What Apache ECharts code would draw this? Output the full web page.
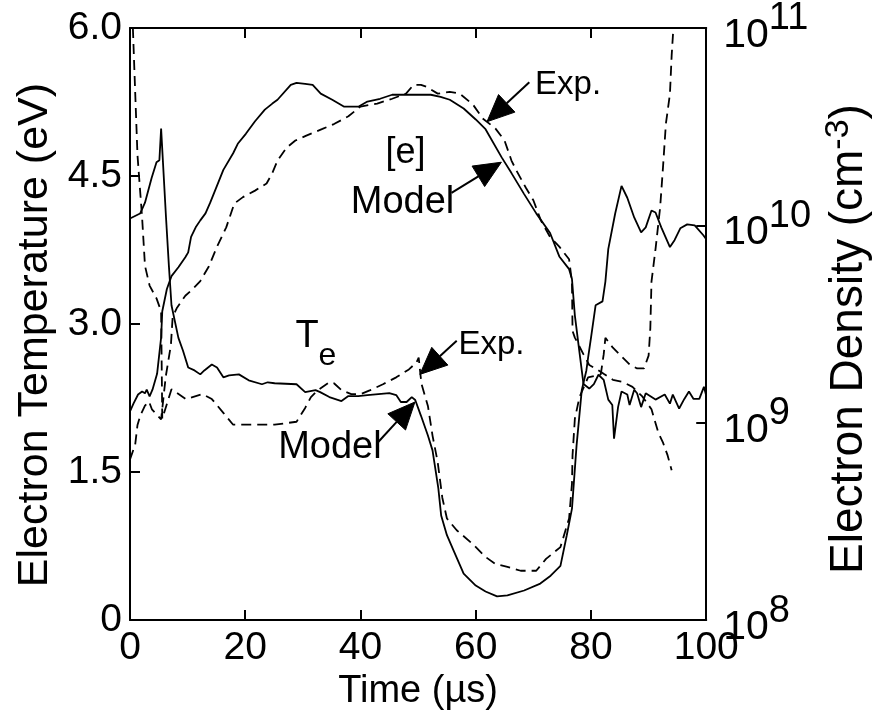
<!DOCTYPE html>
<html>
<head>
<meta charset="utf-8">
<title>Electron temperature and density</title>
<script src="https://cdn.jsdelivr.net/npm/echarts@6/dist/echarts.min.js"></script>
<style>
  html, body { margin: 0; padding: 0; background: #fff; }
  #chart { width: 880px; height: 716px; }
</style>
</head>
<body>
<div id="chart"></div>
<script>
// ---- tick labels ----
const timeTickLabels = ['0', '20', '40', '60', '80', '100'];
const tempTickLabels = ['0', '1.5', '3.0', '4.5', '6.0'];
const densityExponents = ['8', '9', '10', '11'];

// ---- electron temperature, [time (us), Te (eV)] ----
const teModel = [
  [0, 4.07], [1.75, 4.12], [2.6, 4.23], [3.75, 4.48], [4.6, 4.64], [5.1, 4.66], [5.4, 4.98],
  [6.25, 4.08], [6.75, 3.59], [7.2, 3.19], [8.4, 2.86], [9.2, 2.73], [10.1, 2.56], [11.2, 2.53],
  [12.2, 2.49], [12.9, 2.53], [14.2, 2.59], [15.1, 2.56], [16.2, 2.46], [17.2, 2.48], [18.9, 2.49],
  [20.6, 2.43], [22.9, 2.39], [23.9, 2.41], [25.1, 2.40], [28.9, 2.39], [30.4, 2.31], [32.2, 2.33],
  [33.0, 2.31], [34.6, 2.26], [36.7, 2.22], [37.9, 2.27], [39.6, 2.27], [41.2, 2.28], [45.0, 2.30],
  [46.2, 2.28], [47.0, 2.21], [48.0, 2.21], [48.9, 2.26], [49.5, 2.23], [50.5, 2.07], [51.7, 1.87],
  [52.5, 1.72], [53.5, 1.34], [54.0, 1.06], [55.0, 0.86], [56.2, 0.70], [57.9, 0.47], [60.0, 0.35],
  [61.7, 0.29], [63.7, 0.24], [65.5, 0.25], [68.4, 0.30], [71.2, 0.37], [73.0, 0.45], [74.7, 0.55],
  [75.8, 0.86], [76.7, 1.13], [77.5, 1.77], [78.4, 2.33], [79.2, 2.53], [79.5, 2.66], [80.0, 2.86],
  [80.8, 3.19], [82.0, 3.23], [82.5, 3.43], [83.0, 3.76], [84.2, 4.12], [85.3, 4.40], [86.3, 4.28],
  [87.5, 4.08], [88.7, 3.93], [89.5, 3.98], [90.5, 4.15], [91.2, 4.13], [92.2, 3.98], [93.7, 3.78],
  [94.5, 3.85], [95.5, 3.97], [96.7, 4.01], [98.0, 4.00], [99.5, 3.90], [100, 3.86]
];
const teExp = [
  [0.5, 6.0], [0.9, 5.35], [1.3, 4.71], [2.1, 4.08], [2.6, 3.59], [3.4, 3.39], [4.6, 3.26], [5.4, 3.13],
  [5.6, 2.04], [7.2, 2.34], [9.7, 2.24], [12.6, 2.29], [14.2, 2.24], [16.2, 2.10], [17.9, 1.98],
  [19.6, 1.98], [25.1, 1.98], [28.9, 2.01], [30.4, 2.15], [31.4, 2.26], [32.6, 2.33], [34.6, 2.41],
  [35.4, 2.40], [36.7, 2.33], [38.4, 2.29], [40.0, 2.29], [41.7, 2.33], [43.9, 2.39], [46.2, 2.46],
  [48.4, 2.54], [49.7, 2.61], [50.1, 2.66], [50.4, 2.49], [50.6, 2.39], [51.7, 2.17], [52.5, 1.87],
  [53.4, 1.60], [54.2, 1.24], [55.0, 1.03], [56.7, 0.91], [59.5, 0.77], [61.7, 0.64], [63.4, 0.57],
  [65.5, 0.54], [67.8, 0.50], [70.5, 0.50], [72.2, 0.62], [74.7, 0.74], [76.2, 1.03], [76.7, 1.38],
  [76.8, 1.67], [77.2, 2.04], [78.0, 2.26], [79.5, 2.46], [81.7, 2.49], [82.2, 2.69], [82.5, 2.86],
  [83.8, 2.76], [85.0, 2.69], [86.7, 2.59], [88.0, 2.55], [89.2, 2.55], [90.0, 2.68], [90.3, 2.96],
  [90.5, 3.43], [91.2, 3.76], [92.0, 4.18], [92.5, 4.59], [93.0, 5.03], [93.7, 5.33], [94.0, 5.72],
  [94.3, 6.0]
];

// ---- electron density, [time (us), ne (cm^-3)] ----
const neModel = [
  [0, 1.14e9], [0.6, 1.25e9], [1.4, 1.39e9], [2.1, 1.44e9], [2.6, 1.41e9], [2.9, 1.47e9], [3.4, 1.36e9],
  [3.9, 1.47e9], [4.7, 1.77e9], [5.4, 2.70e9], [5.6, 3.67e9], [6.4, 4.76e9], [7.2, 5.53e9], [8.4, 6.14e9],
  [9.6, 6.89e9], [10.1, 7.30e9], [10.6, 8.74e9], [11.4, 9.77e9], [12.2, 1.06e10], [13.1, 1.15e10],
  [13.9, 1.30e10], [14.6, 1.46e10], [16.2, 1.91e10], [17.9, 2.32e10], [18.7, 2.59e10], [20.1, 2.91e10],
  [21.7, 3.37e10], [23.4, 3.86e10], [24.7, 4.14e10], [25.6, 4.33e10], [27.9, 5.15e10], [28.9, 5.27e10],
  [30.4, 5.21e10], [31.7, 5.15e10], [33.1, 4.65e10], [35.1, 4.33e10], [37.1, 4.00e10], [39.7, 4.00e10],
  [41.2, 4.24e10], [43.4, 4.38e10], [45.5, 4.59e10], [47.9, 4.59e10], [52.2, 4.59e10], [53.9, 4.48e10],
  [55.5, 4.33e10], [57.9, 3.91e10], [60.0, 3.44e10], [61.7, 3.07e10], [64.5, 2.21e10], [66.2, 1.84e10],
  [68.4, 1.44e10], [70.5, 1.15e10], [72.9, 9.15e9], [74.5, 6.96e9], [76.2, 6.00e9], [76.7, 5.35e9],
  [77.2, 3.50e9], [77.9, 2.40e9], [78.7, 1.57e9], [79.7, 1.49e9], [80.5, 1.57e9], [81.3, 1.75e9],
  [82.2, 1.65e9], [83.0, 1.31e9], [83.7, 1.23e9], [84.0, 8.30e8], [84.7, 1.20e9], [85.3, 1.44e9],
  [86.3, 1.39e9], [86.7, 1.23e9], [87.5, 1.47e9], [88.0, 1.41e9], [88.7, 1.20e9], [89.5, 1.41e9],
  [91.2, 1.31e9], [92.8, 1.39e9], [93.7, 1.25e9], [94.2, 1.39e9], [95.3, 1.18e9], [96.2, 1.32e9],
  [97.0, 1.44e9], [97.8, 1.32e9], [98.8, 1.32e9], [99.6, 1.52e9], [100, 1.37e9]
];
const neExp = [
  [0, 6.52e8], [0.9, 7.75e8], [1.3, 9.75e8], [1.8, 1.09e9], [2.6, 1.22e9], [3.3, 1.28e9], [3.8, 1.17e9],
  [5.4, 1.04e9], [6.2, 1.71e9], [7.1, 2.48e9], [7.4, 3.43e9], [8.1, 3.80e9], [9.6, 4.40e9], [10.9, 4.76e9],
  [12.2, 5.22e9], [13.7, 6.21e9], [15.1, 7.80e9], [16.7, 9.77e9], [18.1, 1.29e10], [19.6, 1.39e10],
  [21.7, 1.50e10], [23.7, 1.63e10], [24.7, 1.84e10], [25.6, 2.13e10], [27.2, 2.48e10], [28.7, 2.69e10],
  [30.6, 2.85e10], [33.4, 3.08e10], [35.4, 3.26e10], [37.9, 3.57e10], [40.0, 4.00e10], [42.9, 4.14e10],
  [45.5, 4.38e10], [47.9, 4.65e10], [49.2, 5.15e10], [50.5, 5.15e10], [51.5, 5.03e10], [53.4, 4.65e10],
  [55.5, 4.75e10], [57.2, 4.65e10], [59.5, 4.10e10], [61.2, 3.48e10], [63.4, 3.10e10], [65.0, 2.69e10],
  [66.2, 2.13e10], [67.0, 1.91e10], [68.7, 1.55e10], [70.0, 1.34e10], [71.3, 1.06e10], [72.9, 8.74e9],
  [74.5, 7.80e9], [76.2, 6.73e9], [76.7, 5.17e9], [76.8, 2.92e9], [77.2, 2.70e9], [78.7, 2.22e9],
  [79.7, 1.96e9], [81.2, 1.85e9], [82.2, 1.77e9], [83.8, 1.65e9], [85.5, 1.61e9], [87.2, 1.52e9],
  [88.9, 1.36e9], [90.5, 1.17e9], [91.7, 8.89e8], [92.5, 7.93e8], [93.3, 6.83e8], [94.0, 5.75e8]
];

// ---- look ----
const FONT = '"Liberation Sans", Arial, Helvetica, sans-serif';
const INK = '#000';
const TICK_FONT = 39;

// Callouts, placed in (time, Te) coordinates of the left axis
const callouts = [
  { text: 'Exp.',  size: 33, at: [70.3, 5.42], align: 'left',   tail: [69.3, 5.45], tip: [61.95, 5.05] },
  { text: '[e]',   size: 36, at: [47.8, 4.73], align: 'center' },
  { text: 'Model', size: 38, at: [47.3, 4.23], align: 'center', tail: [55.8, 4.33], tip: [64.45, 4.64] },
  { text: 'Exp.',  size: 33, at: [57.0, 2.79], align: 'left',   tail: [56.7, 2.83], tip: [50.3, 2.49] },
  { text: 'Model', size: 38, at: [34.7, 1.75], align: 'center', tail: [43.0, 1.80], tip: [49.45, 2.21] }
];
const teLabelAt = [28.7, 2.79];

const axisLine = { show: true, onZero: false, lineStyle: { color: INK, width: 2 } };
const axisTick = { show: true, inside: true, length: 10, lineStyle: { color: INK, width: 2 } };
const tickText = { fontFamily: FONT, fontSize: TICK_FONT, color: INK };

const solid = { color: INK, width: 1.8, type: 'solid' };
const dashed = { color: INK, width: 1.8, type: [10, 6] };

function lineSeries(name, data, yAxisIndex, style) {
  return {
    name, type: 'line', data, xAxisIndex: 0, yAxisIndex,
    showSymbol: false, symbol: 'none', smooth: false, clip: true,
    lineStyle: style, emphasis: { disabled: true }, silent: true
  };
}

const chart = echarts.init(document.getElementById('chart'), null, { renderer: 'canvas' });

chart.setOption({
  animation: false,
  backgroundColor: '#fff',
  grid: { left: 130, top: 25, width: 600, height: 602, containLabel: false },
  xAxis: [
    {
      type: 'value', min: 0, max: 100, interval: 20, position: 'bottom',
      name: 'Time (µs)', nameLocation: 'middle', nameGap: 48,
      nameTextStyle: { fontFamily: FONT, fontSize: 38, color: INK },
      axisLine, axisTick,
      axisLabel: { ...tickText, margin: 9, formatter: (v, i) => timeTickLabels[i] },
      splitLine: { show: false }
    },
    {
      type: 'value', min: 0, max: 100, interval: 20, position: 'top',
      axisLine, axisTick, axisLabel: { show: false }, splitLine: { show: false }
    }
  ],
  yAxis: [
    {
      type: 'value', min: 0, max: 6, interval: 1.5, position: 'left',
      name: 'Electron Temperature (eV)', nameLocation: 'middle', nameGap: 70, nameRotate: 90,
      nameTextStyle: { fontFamily: FONT, fontSize: 43, color: INK, padding: [0, 22, 0, 0] },
      axisLine, axisTick,
      axisLabel: { ...tickText, margin: 8, formatter: (v, i) => tempTickLabels[i] },
      splitLine: { show: false }
    },
    {
      type: 'log', logBase: 10, min: 1e8, max: 1e11, position: 'right',
      name: 'Electron Density (cm{sup|-3})', nameLocation: 'middle', nameGap: 106, nameRotate: 90,
      nameTextStyle: {
        fontFamily: FONT, fontSize: 46, color: INK, padding: [0, 30, 0, 0],
        rich: { sup: { fontFamily: FONT, fontSize: 34, color: INK, padding: [0, 0, 20, 0] } }
      },
      axisLine, axisTick,
      axisLabel: {
        margin: 17,
        formatter: (v) => {
          const k = densityExponents.indexOf(String(Math.round(Math.log10(v))));
          return '{b|10}{s|' + densityExponents[k] + '}';
        },
        rich: {
          b: { fontFamily: FONT, fontSize: 41, color: INK, verticalAlign: 'bottom' },
          s: { fontFamily: FONT, fontSize: 38, color: INK, padding: [0, 0, 18, 0] }
        }
      },
      splitLine: { show: false }
    }
  ],
  series: [
    lineSeries('Te model', teModel, 0, solid),
    lineSeries('Te experiment', teExp, 0, dashed),
    lineSeries('ne model', neModel, 1, solid),
    lineSeries('ne experiment', neExp, 1, dashed)
  ]
});

// ---- callouts with filled arrowheads ----
function px(p) { return chart.convertToPixel({ xAxisIndex: 0, yAxisIndex: 0 }, p); }

const graphics = [];
callouts.forEach(c => {
  const p = px(c.at);
  graphics.push({
    type: 'text', x: p[0], y: p[1], silent: true,
    style: {
      text: c.text, fill: INK, fontFamily: FONT, fontSize: c.size,
      align: c.align, verticalAlign: 'middle', textAlign: c.align, textVerticalAlign: 'middle'
    }
  });
  if (c.tip) {
    const a = px(c.tail), b = px(c.tip);
    const dx = b[0] - a[0], dy = b[1] - a[1];
    const len = Math.hypot(dx, dy), ux = dx / len, uy = dy / len;
    const headLen = 27, halfW = 12;
    const bx = b[0] - ux * headLen, by = b[1] - uy * headLen;
    graphics.push({
      type: 'line', silent: true,
      shape: { x1: a[0], y1: a[1], x2: bx, y2: by },
      style: { stroke: INK, lineWidth: 2 }
    });
    graphics.push({
      type: 'polygon', silent: true,
      shape: { points: [[b[0], b[1]], [bx - uy * halfW, by + ux * halfW], [bx + uy * halfW, by - ux * halfW]] },
      style: { fill: INK, stroke: INK, lineWidth: 1 }
    });
  }
});
const tp = px(teLabelAt);
graphics.push({
  type: 'text', x: tp[0], y: tp[1], silent: true,
  style: {
    text: '{t|T}{e|e}', fill: INK, align: 'left', verticalAlign: 'middle',
    textAlign: 'left', textVerticalAlign: 'middle',
    rich: {
      t: { fontFamily: FONT, fontSize: 38, fill: INK, color: INK, verticalAlign: 'top' },
      e: { fontFamily: FONT, fontSize: 32, fill: INK, color: INK, padding: [22, 0, 0, 0] }
    }
  }
});
chart.setOption({ graphic: { elements: graphics } });
</script>
</body>
</html>
